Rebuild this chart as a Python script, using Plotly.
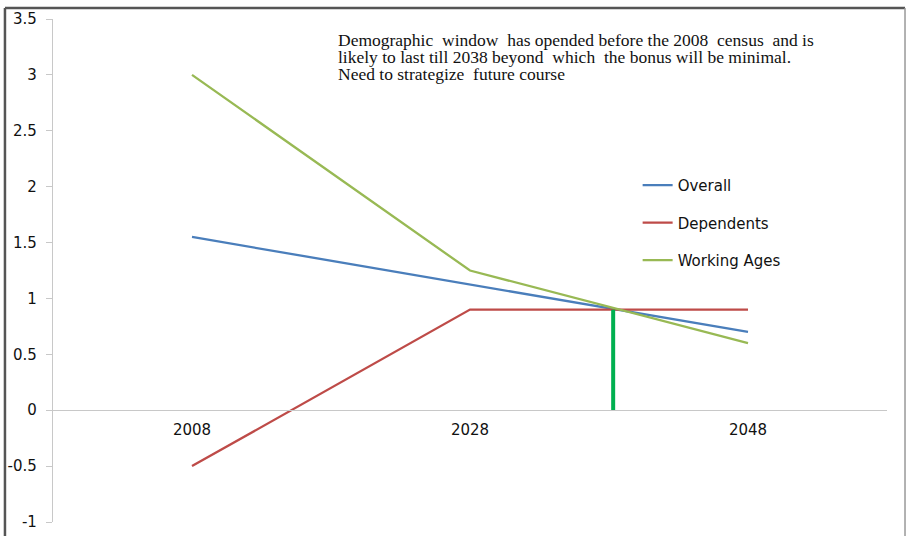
import plotly.graph_objects as go

years = [2008, 2028, 2048]
overall = [1.55, 1.125, 0.7]
dependents = [-0.5, 0.9, 0.9]
working_ages = [3.0, 1.25, 0.6]
window_end_year = [2038.3, 2038.3]
window_end_value = [0, 0.9]

y_ticks = [-1, -0.5, 0, 0.5, 1, 1.5, 2, 2.5, 3, 3.5]
y_tick_text = ["-1", "-0.5", "0", "0.5", "1", "1.5", "2", "2.5", "3", "3.5"]
x_tick_text = ["2008", "2028", "2048"]

note_lines = [
    "Demographic  window  has opended before the 2008  census  and is",
    "likely to last till 2038 beyond  which  the bonus will be minimal.",
    "Need to strategize  future course",
]

fig = go.Figure()
fig.add_trace(go.Scatter(x=years, y=overall, mode="lines", name="Overall",
                         line=dict(color="#4A7EBB", width=2.3), legendgroup="a"))
fig.add_trace(go.Scatter(x=years, y=dependents, mode="lines", name="Dependents",
                         line=dict(color="#BE4B48", width=2.3), legendgroup="b"))
fig.add_trace(go.Scatter(x=years, y=working_ages, mode="lines", name="Working Ages",
                         line=dict(color="#98B954", width=2.3), legendgroup="c"))
fig.add_trace(go.Scatter(x=window_end_year, y=window_end_value, mode="lines",
                         line=dict(color="#00B050", width=4), showlegend=False,
                         hoverinfo="skip"))

plot_top, plot_h = 19, 503
annotations = []
for i, line in enumerate(note_lines):
    cy = 40 + 17 * i
    annotations.append(dict(text=line, xref="paper", yref="paper",
                            x=(336 - 53) / 834, y=(plot_top + plot_h - cy) / plot_h,
                            xanchor="left", yanchor="middle", align="left",
                            showarrow=False,
                            font=dict(family="Liberation Serif", size=17.5, color="#111")))

fig.update_layout(
    width=908, height=536,
    margin=dict(l=53, r=21, t=19, b=14, autoexpand=False),
    paper_bgcolor="white", plot_bgcolor="white",
    font=dict(family="DejaVu Sans", size=15, color="#111"),
    legend=dict(x=0.701, y=0.702, xanchor="left", yanchor="top",
                bgcolor="rgba(0,0,0,0)", tracegroupgap=15, itemwidth=30,
                font=dict(size=15, family="DejaVu Sans", color="#111")),
    xaxis=dict(range=[1998, 2058], tickvals=years, ticktext=x_tick_text,
               showgrid=False, zeroline=False, showline=True, automargin=False,
               linecolor="#C8C8C8", linewidth=1.3, ticks="",
               anchor="free", position=1/4.5, ticklabelstandoff=6),
    yaxis=dict(range=[-1, 3.5], tickvals=y_ticks, ticktext=y_tick_text,
               showgrid=False, zeroline=False, showline=True, automargin=False,
               linecolor="#C8C8C8", linewidth=1.3, ticks="outside",
               ticklen=6, tickcolor="#C8C8C8", ticklabelstandoff=6),
    annotations=annotations,
    shapes=[
        dict(type="line", xref="paper", yref="paper", x0=-0.0576, x1=-0.0576,
             y0=1.022, y1=-0.06, line=dict(color="#555", width=2.5)),
        dict(type="line", xref="paper", yref="paper", x0=-0.0576, x1=1.0216,
             y0=1.022, y1=1.022, line=dict(color="#555", width=2.5)),
        dict(type="line", xref="paper", yref="paper", x0=1.0216, x1=1.0216,
             y0=1.022, y1=-0.06, line=dict(color="#999", width=1.5)),
    ],
)

fig.write_html("out.html", config={"displayModeBar": False},
               post_script="document.body.style.margin='0';document.body.style.overflow='hidden';")
